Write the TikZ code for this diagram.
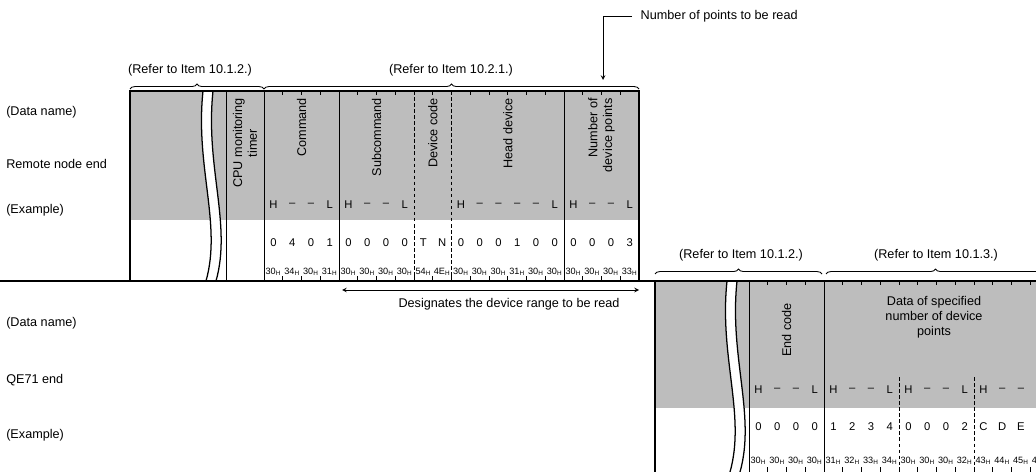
\documentclass[tikz,border=0pt]{standalone}
\usepackage{fontspec}
\setmainfont{Liberation Sans}
\usepackage{tikz}
\usetikzlibrary{decorations.pathreplacing, arrows.meta}
\definecolor{screen}{gray}{0.74}
\newcommand{\hexv}[1]{#1\textsubscript{H}}

\begin{document}
\begin{tikzpicture}[>=stealth, x=0.025cm, y=-0.025cm,
  txt/.style={font=\fontsize{9}{10.5}\selectfont, inner sep=0pt},
  vlbl/.style={txt, rotate=90, anchor=east, align=center},
  dig/.style={font=\fontsize{8}{9}\selectfont, inner sep=0pt},
  hexs/.style={font=\fontsize{6.5}{7}\selectfont, inner sep=0pt},
  brc/.style={decorate, decoration={brace, amplitude=3.5pt}, line width=0.6pt},
  frm/.style={line width=0.9pt},
  sep/.style={line width=0.5pt},
  dsep/.style={line width=0.5pt, dash pattern=on 2.5pt off 1.8pt}]
  \useasboundingbox (0,0) rectangle (1036,472);

  % screened areas and breaks
  \fill[screen] (130,91) rectangle (639,220);
  \fill[screen] (655,281) rectangle (1036,408);
  \fill[white] (203,91) .. controls (195,167) and (222,224) .. (206,281) -- (216,281) .. controls (232,224) and (205,167) .. (213,91) -- cycle;
  \fill[white] (727,281) .. controls (719,357) and (746,415) .. (730,472) -- (740,472) .. controls (756,415) and (729,357) .. (737,281) -- cycle;
  \draw[frm] (203,91) .. controls (195,167) and (222,224) .. (206,281);
  \draw[frm] (213,91) .. controls (205,167) and (232,224) .. (216,281);
  \draw[frm] (727,281) .. controls (719,357) and (746,415) .. (730,472);
  \draw[frm] (737,281) .. controls (729,357) and (756,415) .. (740,472);

  % frames
  \draw[frm] (130,281) -- (130,91) -- (639,91) -- (639,281);
  \draw[line width=1.3pt] (0,281) -- (1036,281);
  \draw[frm] (655,281) -- (655,472);
  \foreach \x in {226,264,339,564} \draw[sep] (\x,91) -- (\x,281);
  \foreach \x in {414,451.5} \draw[dsep] (\x,91) -- (\x,281);
  \foreach \x in {749,824} \draw[sep] (\x,281) -- (\x,472);
  \foreach \x in {899,974} \draw[dsep] (\x,377) -- (\x,472);
  \foreach \i in {1,...,19} {
    \draw[sep] ({264+18.75*\i},91) -- ++(0,4);
    \draw[sep] ({264+18.75*\i},281) -- ++(0,-5);
  }
  \foreach \i in {1,...,15} {
    \draw[sep] ({749+18.75*\i},281) -- ++(0,4);
    \draw[sep] ({749+18.75*\i},472) -- ++(0,-5);
  }

  % row names
  \node[txt, anchor=west] (dname1) at (6,112) {(Data name)};
  \node[txt, anchor=west] (remote) at (6,164) {Remote node end};
  \node[txt, anchor=west] (exmp1) at (6,210) {(Example)};
  \node[txt, anchor=west] (dname2) at (6,323) {(Data name)};
  \node[txt, anchor=west] (qe71) at (6,380) {QE71 end};
  \node[txt, anchor=west] (exmp2) at (6,435) {(Example)};

  % field names
  \node[vlbl] (cpu) at (245,98) {CPU monitoring\\timer};
  \node[vlbl] (cmd) at (301.5,98) {Command};
  \node[vlbl] (subcmd) at (376.5,98) {Subcommand};
  \node[vlbl] (devcode) at (432.75,98) {Device code};
  \node[vlbl] (headdev) at (507.75,98) {Head device};
  \node[vlbl, align=right] (numpts) at (601.5,98) {Number of\\device points};
  \node[vlbl] (endcode) at (786.5,303) {End code};
  \node[txt, align=center] (data) at (934,317) {Data of specified\\number of device\\points};

  % H--L, characters and codes
  \foreach \c/\i in {H/0,--/1,--/2,L/3,H/4,--/5,--/6,L/7,H/10,--/11,--/12,--/13,--/14,L/15,H/16,--/17,--/18,L/19}
    \node[dig] (uhl\i) at ({264+18.75*(\i+0.5)},205) {\c};
  \foreach \c/\h [count=\i from 0] in {0/30,4/34,0/30,1/31,0/30,0/30,0/30,0/30,T/54,N/4E,0/30,0/30,0/30,1/31,0/30,0/30,0/30,0/30,0/30,3/33} {
    \node[dig] (uch\i) at ({264+18.75*(\i+0.5)},243) {\c};
    \node[hexs] (uhx\i) at ({264+18.75*(\i+0.5)},272) {\hexv{\h}};
  }
  \foreach \c/\i in {H/0,--/1,--/2,L/3,H/4,--/5,--/6,L/7,H/8,--/9,--/10,L/11,H/12,--/13,--/14,L/15}
    \node[dig] (lhl\i) at ({749+18.75*(\i+0.5)},390) {\c};
  \foreach \c/\h [count=\i from 0] in {0/30,0/30,0/30,0/30,1/31,2/32,3/33,4/34,0/30,0/30,0/30,2/32,C/43,D/44,E/45,F/46} {
    \node[dig] (lch\i) at ({749+18.75*(\i+0.5)},427) {\c};
    \node[hexs] (lhx\i) at ({749+18.75*(\i+0.5)},461) {\hexv{\h}};
  }

  % references
  \draw[brc] (130,89) -- (264,89);
  \draw[brc] (264,89) -- (639,89);
  \node[txt] (ref1) at (190,70) {(Refer to Item 10.1.2.)};
  \node[txt] (ref2) at (451,70) {(Refer to Item 10.2.1.)};
  \draw[brc] (655,274) -- (822,274);
  \draw[brc] (826,274) -- (1045,274);
  \node[txt] (ref3) at (741,255) {(Refer to Item 10.1.2.)};
  \node[txt] (ref4) at (936,255) {(Refer to Item 10.1.3.)};

  % notes
  \node[txt, anchor=west, inner xsep=6pt] (npts) at (632,16) {Number of points to be read};
  \coordinate (nptip) at (603,80);
  \draw[->, sep] (npts.west) -| (nptip);
  \coordinate (rngL) at (342,290);
  \coordinate (rngR) at (639,290);
  \draw[<->, sep] (rngL) -- (rngR);
  \node[txt] (rng) at (509,304) {Designates the device range to be read};
\end{tikzpicture}
\end{document}
